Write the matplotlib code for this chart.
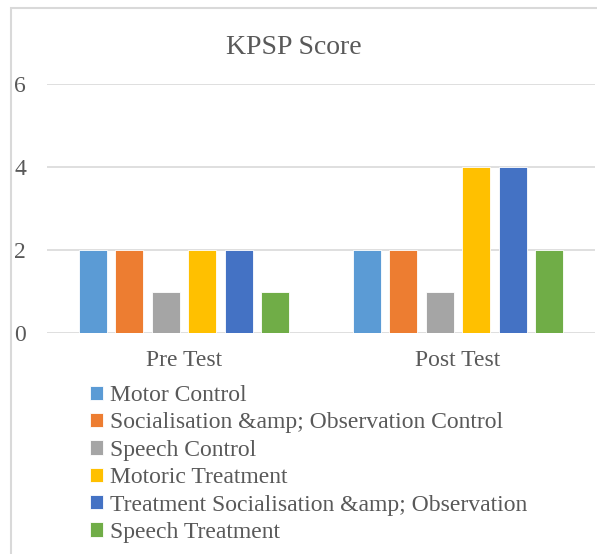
import numpy as np
import matplotlib.pyplot as plt
from matplotlib.patches import Rectangle

plt.rcParams['font.family'] = ['Liberation Serif', 'DejaVu Serif']

# data
categories = ['Pre Test', 'Post Test']
series_names = ['Motor Control',
                'Socialisation &amp; Observation Control',
                'Speech Control',
                'Motoric Treatment',
                'Treatment Socialisation &amp; Observation',
                'Speech Treatment']
motor_control = [2, 2]
social_control = [2, 2]
speech_control = [1, 1]
motoric_treatment = [2, 4]
social_treatment = [2, 4]
speech_treatment = [1, 2]
series_values = [motor_control, social_control, speech_control,
                 motoric_treatment, social_treatment, speech_treatment]
colors = ['#5B9BD5', '#ED7D31', '#A5A5A5', '#FFC000', '#4472C4', '#70AD47']

W, H = 597, 554
fig = plt.figure(figsize=(W / 100, H / 100), dpi=100)
ax = fig.add_axes([47 / W, 1 - 333 / H, 548 / W, 249 / H])

x = np.arange(len(categories))
step = 0.133
for i, (name, vals) in enumerate(zip(series_names, series_values)):
    ax.bar(x + (i - 2.5) * step, vals, width=0.102, color=colors[i],
           edgecolor='white', linewidth=0.6, label=name, zorder=3)

ax.set_xlim(-0.5, 1.5)
ax.set_ylim(0, 6)
ax.set_yticks([0, 2, 4, 6])
ax.set_xticks(x)
ax.set_xticklabels(categories)
ax.grid(axis='y', color='#d9d9d9', linewidth=1.2, zorder=0)
for s in ax.spines.values():
    s.set_visible(False)
ax.tick_params(length=0, labelsize=17, labelcolor='#595959')
ax.tick_params(axis='y', pad=15)
ax.tick_params(axis='x', pad=12)

fig.text(294 / W, 1 - 48 / H, 'KPSP Score', fontsize=20, color='#595959',
         ha='center', va='center')

leg = ax.legend(loc='upper left', bbox_to_anchor=(90 / W, 1 - 385 / H),
                bbox_transform=fig.transFigure, frameon=False, fontsize=17,
                handlelength=0.55, handleheight=0.55, handletextpad=0.3,
                labelspacing=0.27, borderpad=0, borderaxespad=0)
for t in leg.get_texts():
    t.set_color('#595959')

fig.patches.append(Rectangle((10.5 / W, -0.1), 1.2, 1 - 8.5 / H + 0.1,
                             transform=fig.transFigure, fill=False,
                             edgecolor='#d9d9d9', linewidth=1.5))

fig.savefig('out.png', dpi=100)
